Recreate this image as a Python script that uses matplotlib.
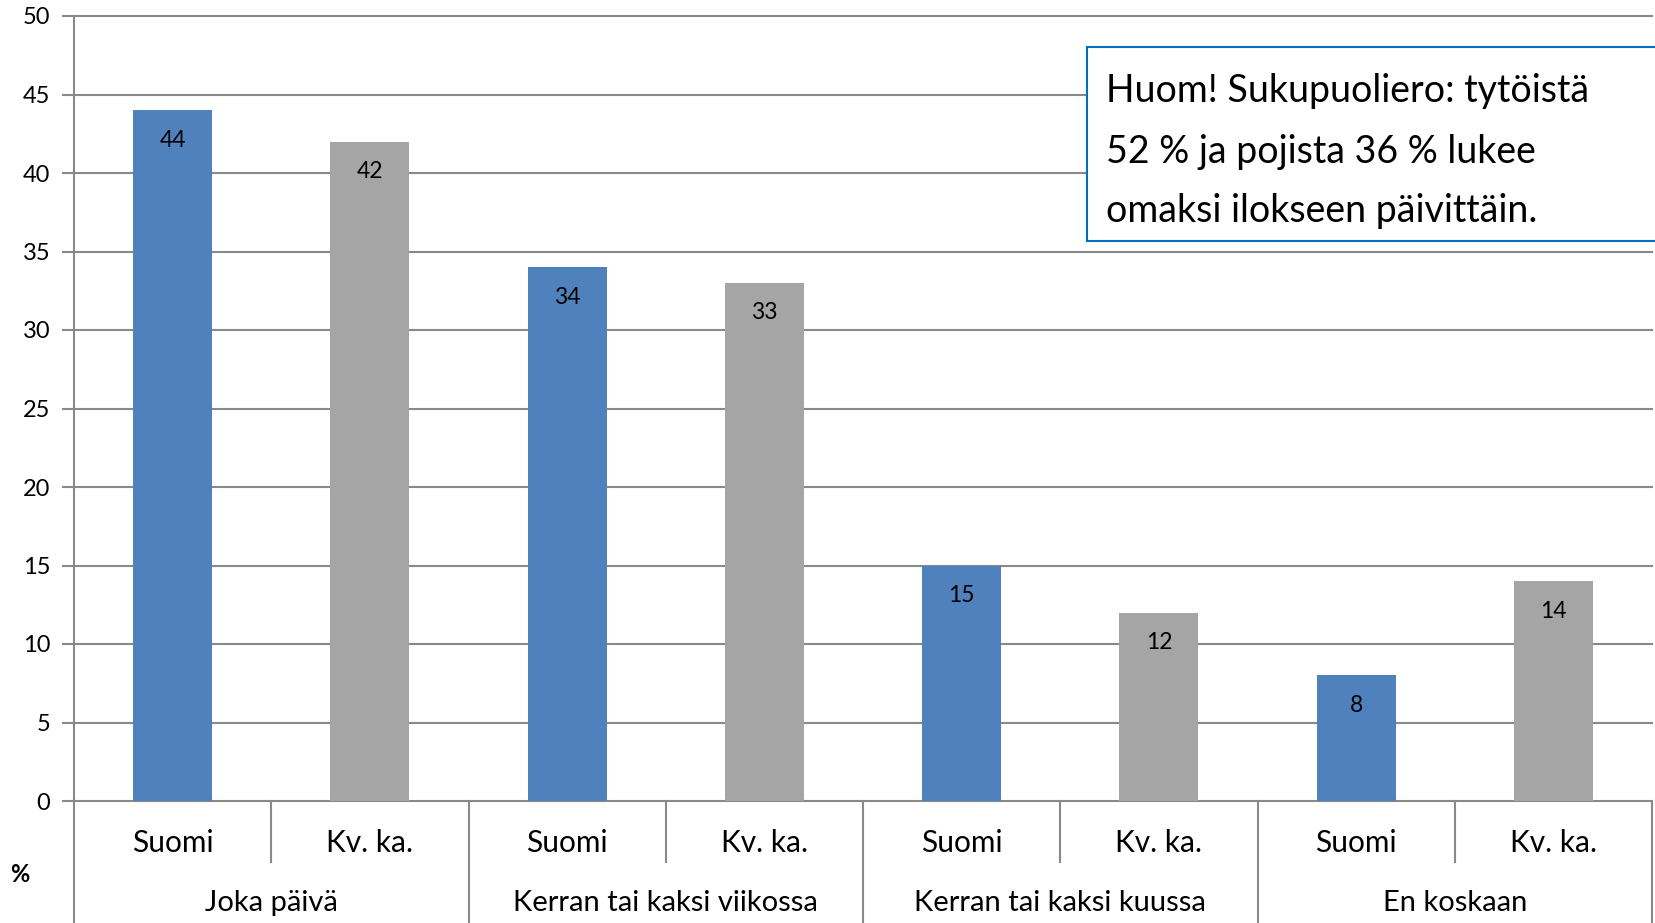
import matplotlib.pyplot as plt
from matplotlib.patches import Rectangle
import matplotlib.transforms as mtransforms

plt.rcParams['font.family'] = ['Lato', 'DejaVu Sans']

# data
groups = ["Joka päivä", "Kerran tai kaksi viikossa", "Kerran tai kaksi kuussa", "En koskaan"]
series = ["Suomi", "Kv. ka."]
suomi = [44, 34, 15, 8]
kvka = [42, 33, 12, 14]
yticks = [0, 5, 10, 15, 20, 25, 30, 35, 40, 45, 50]
note_lines = ["Huom! Sukupuoliero: tytöistä",
              "52 % ja pojista 36 % lukee",
              "omaksi ilokseen päivittäin."]

blue = "#4F81BD"
grey = "#A5A5A5"
line_col = "#898989"

W, H = 1655, 923
fig = plt.figure(figsize=(W / 100, H / 100), dpi=100)
ax = fig.add_axes([74 / W, 1 - 801 / H, (1652 - 74) / W, (801 - 16) / H])

# interleave values: Suomi, Kv. ka. per group
values = []
colors = []
labels = []
for s, k in zip(suomi, kvka):
    values += [s, k]
    colors += [blue, grey]
    labels += series
xs = list(range(len(values)))

for y in yticks:
    ax.axhline(y, color=line_col, lw=1.5, zorder=0, clip_on=False)

ax.bar(xs, values, width=0.4, color=colors, zorder=2)
for x, v in zip(xs, values):
    ax.annotate(str(v), (x, v), xytext=(0, -30), textcoords="offset pixels",
                ha="center", va="center", fontsize=16.5, color="black")

ax.set_xlim(-0.5, len(values) - 0.5)
ax.set_ylim(0, 50)
ax.set_yticks(yticks)
ax.set_xticks([])
for sp in ["top", "right", "bottom"]:
    ax.spines[sp].set_visible(False)
ax.spines["left"].set_color(line_col)
ax.spines["left"].set_linewidth(1.5)
ax.tick_params(axis="y", length=9, width=1.5, color=line_col, labelsize=17, pad=8)

# category axis below
trans = mtransforms.blended_transform_factory(ax.transData, ax.transAxes)
short_y = -61 / 785
long_y = -130 / 785
for i in range(len(values) + 1):
    xb = i - 0.5
    y1 = long_y if i % 2 == 0 else short_y
    ax.plot([xb, xb], [0, y1], transform=trans, color=line_col, lw=1.5, clip_on=False)
for x, lab in zip(xs, labels):
    ax.text(x, -42 / 785, lab, transform=trans, ha="center", va="center", fontsize=21.5)
for g, name in enumerate(groups):
    ax.text(2 * g + 0.5, -102 / 785, name, transform=trans, ha="center", va="center", fontsize=21)

fig.text(20 / W, 1 - 875 / H, "%", ha="center", va="center", fontsize=17, fontweight="bold")

# note box
fig.patches.append(Rectangle((1087 / W, 1 - 241 / H), 700 / W, 194 / H,
                             transform=fig.transFigure, facecolor="white",
                             edgecolor="#0070C0", lw=1.5, zorder=5))
for yb, line in zip([102, 163, 222], note_lines):
    fig.text(1106 / W, 1 - yb / H, line, ha="left", va="baseline", fontsize=27, zorder=6)

fig.savefig("out.png", dpi=100)
